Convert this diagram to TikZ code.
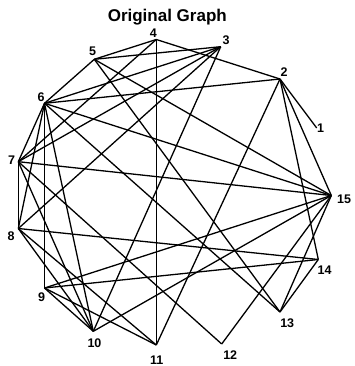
\documentclass[tikz,border=0pt]{standalone}
\usepackage{fontspec}
\setmainfont{Liberation Sans}
\begin{document}
\begin{tikzpicture}[x=1pt,y=-1pt,
  edge/.style={line width=1.3pt,black},
  lbl/.style={inner sep=0pt,font=\bfseries\fontsize{12.5}{14}\selectfont},
  ttl/.style={inner sep=0pt,font=\bfseries\fontsize{17}{20}\selectfont}]
\useasboundingbox (0,0) rectangle (354,366);
\coordinate (v1) at (316.7,128);
\coordinate (v2) at (280,79);
\coordinate (v3) at (220.7,46.7);
\coordinate (v4) at (156.3,39.5);
\coordinate (v5) at (94.3,59.3);
\coordinate (v6) at (44.5,103.3);
\coordinate (v7) at (18.3,161.7);
\coordinate (v8) at (18.3,228.5);
\coordinate (v9) at (44.5,288);
\coordinate (v10) at (93.3,331.3);
\coordinate (v11) at (156.3,345);
\coordinate (v12) at (221.7,344);
\coordinate (v13) at (280,312);
\coordinate (v14) at (318.3,259.5);
\coordinate (v15) at (331.3,195.5);
\node[ttl] (title) at (167.3,17.5) {Original Graph};
\node[lbl] (l1) at (320.7,128.3) {1};
\node[lbl] (l2) at (284,71.7) {2};
\node[lbl] (l3) at (226,40.7) {3};
\node[lbl] (l4) at (153.3,33) {4};
\node[lbl] (l5) at (92.7,51.2) {5};
\node[lbl] (l6) at (41,96.7) {6};
\node[lbl] (l7) at (11.7,160) {7};
\node[lbl] (l8) at (11,236.2) {8};
\node[lbl] (l9) at (41.7,297.3) {9};
\node[lbl] (l10) at (94.5,342.8) {10};
\node[lbl] (l11) at (156.7,359.8) {11};
\node[lbl] (l12) at (230.2,354.8) {12};
\node[lbl] (l13) at (287.2,323.2) {13};
\node[lbl] (l14) at (324.5,270.2) {14};
\node[lbl] (l15) at (344,199.5) {15};
\foreach \a/\b in {1/2,2/4,2/6,2/14,2/15,2/11,3/5,3/6,3/7,3/8,3/10,4/5,4/7,4/11,
  5/6,5/13,5/15,6/7,6/8,6/9,6/10,6/13,6/15,7/8,7/10,7/12,7/15,
  8/10,8/11,8/14,9/10,9/11,9/14,9/15,10/15,12/15,13/14,13/15}
  \draw[edge] (v\a) -- (v\b);
\end{tikzpicture}
\end{document}
